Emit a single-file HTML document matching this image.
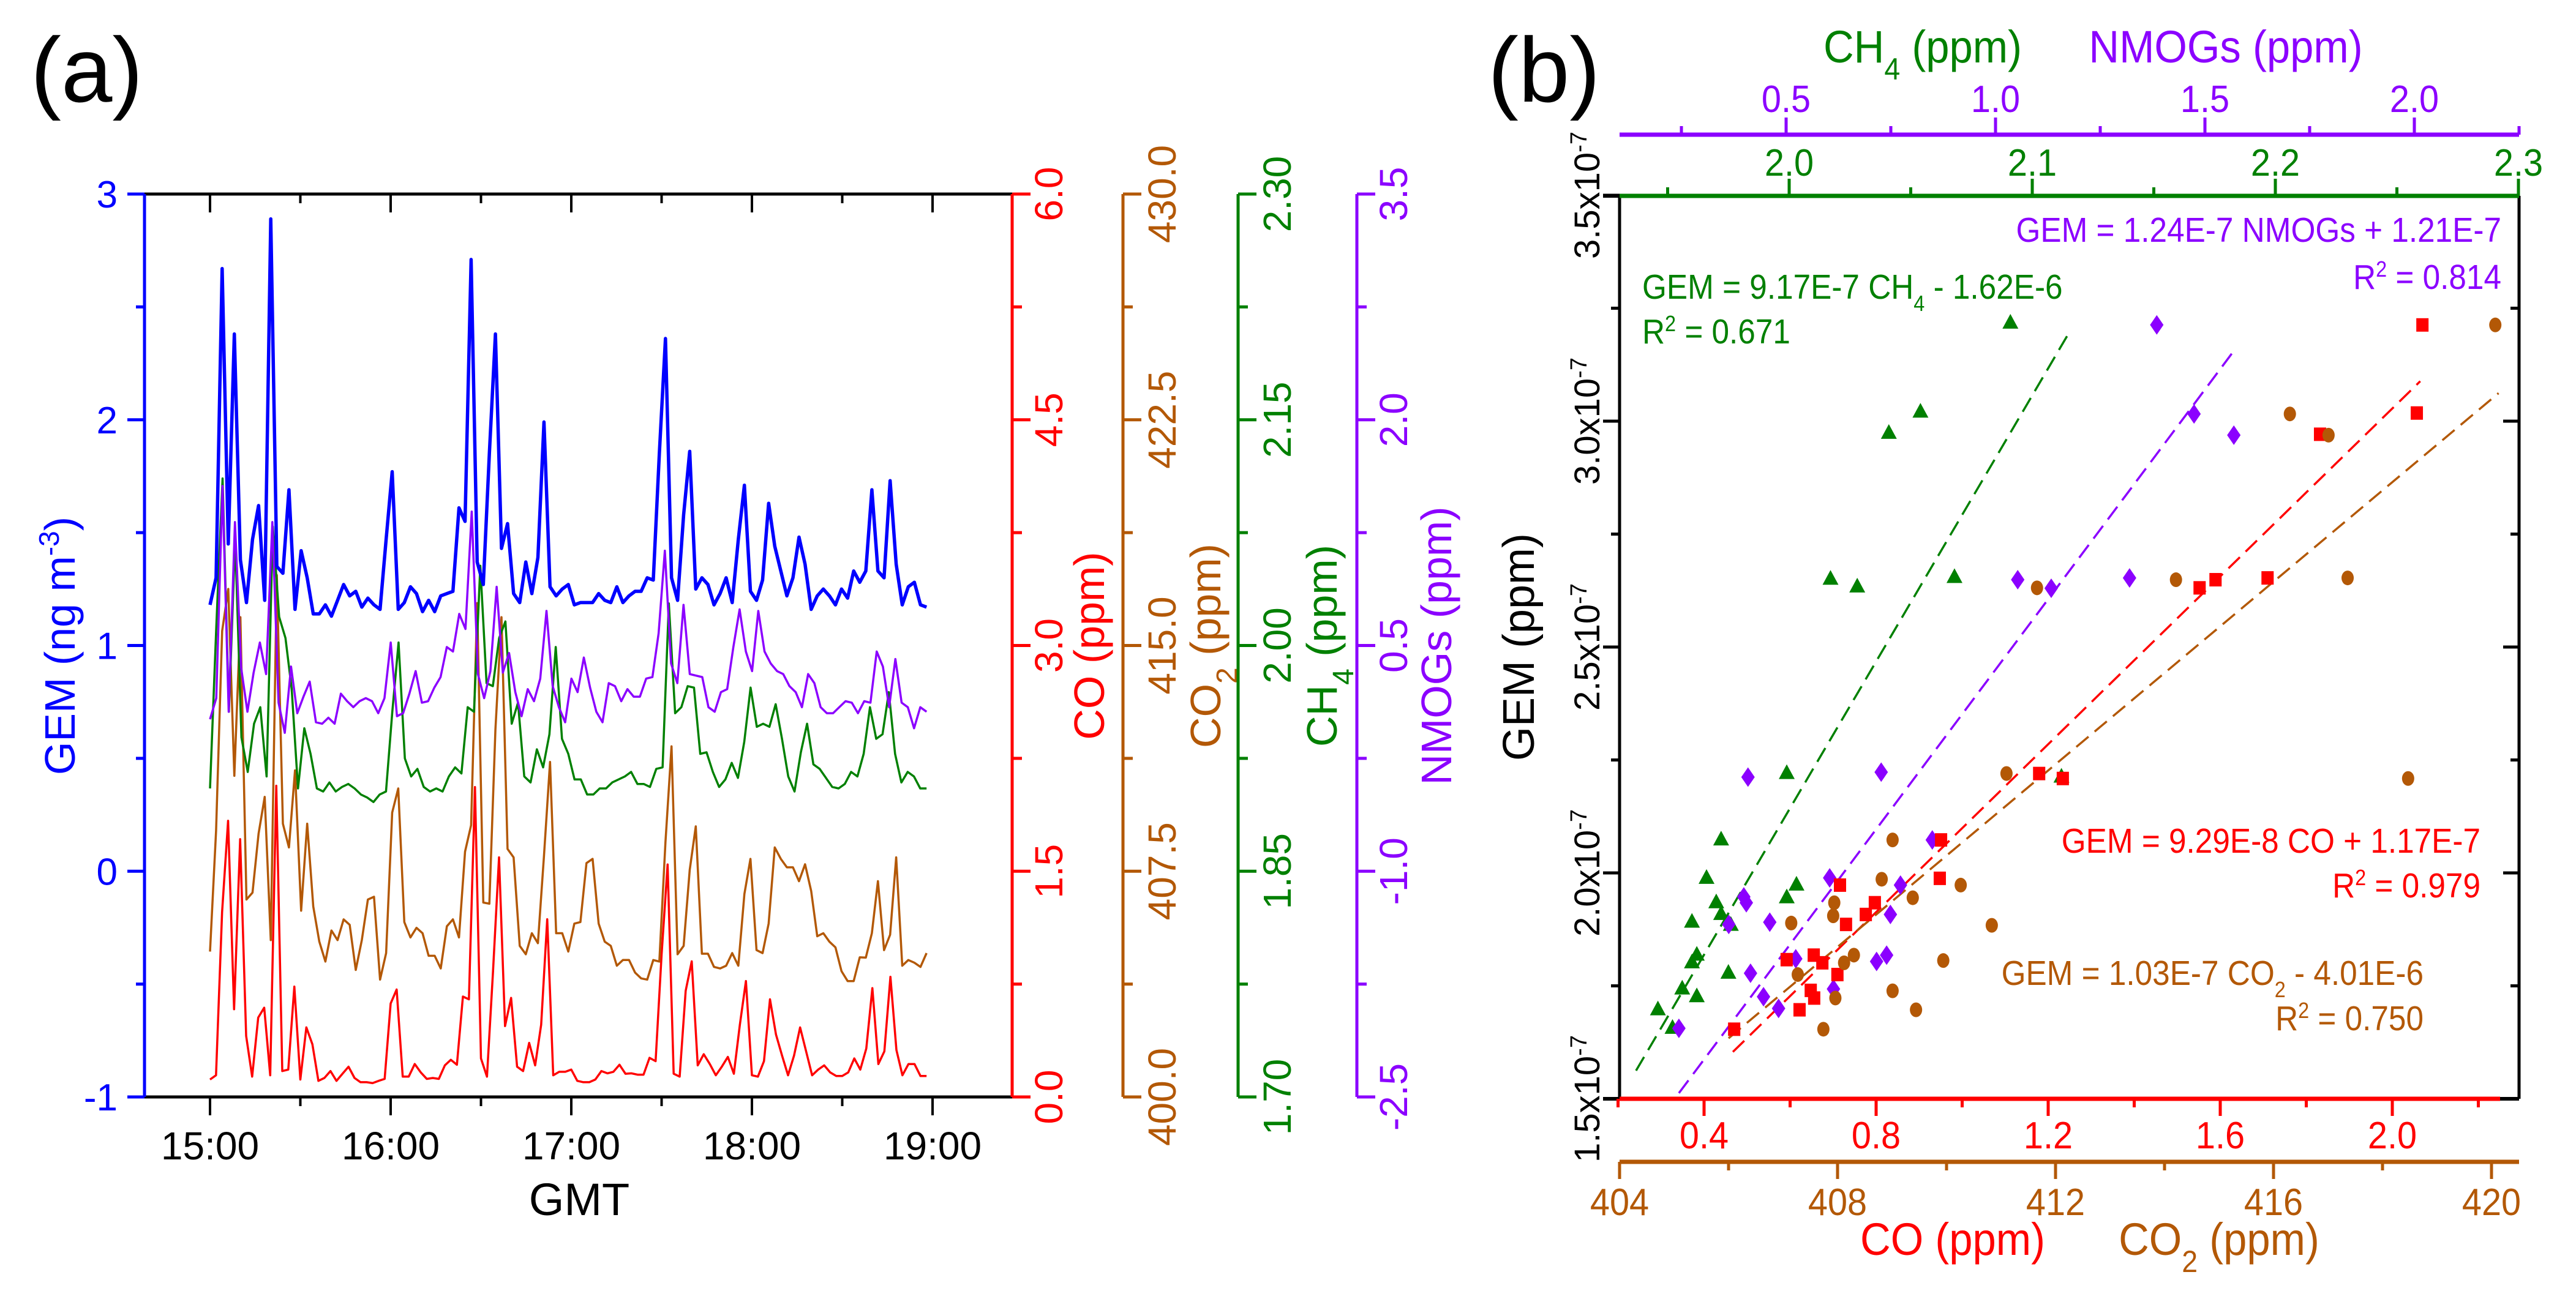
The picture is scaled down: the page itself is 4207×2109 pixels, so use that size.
<!DOCTYPE html>
<html><head><meta charset="utf-8"><style>
html,body{margin:0;padding:0;background:#fff;}
svg{display:block;font-family:"Liberation Sans",Arial,sans-serif;}
</style></head><body>
<svg id="fig" xmlns="http://www.w3.org/2000/svg" width="4207" height="2109" viewBox="0 0 4207 2109">
<rect width="4207" height="2109" fill="#fff"/>
<text x="50" y="166" font-size="150" fill="#000">(a)</text>
<text x="2430" y="166" font-size="150" fill="#000">(b)</text>
<g id="pa"></g>
<g id="pb"></g>
</svg>
<script>
// ---------- Panel (a) data: time series from 15:00 ----------
const endMin = 238;
const gemSeries = [1.18,1.30,2.67,1.45,2.38,1.38,1.19,1.47,1.62,1.20,2.89,1.35,1.32,1.69,1.16,1.42,1.30,1.14,1.14,1.18,1.13,1.20,1.27,1.22,1.24,1.17,1.21,1.18,1.16,1.47,1.77,1.16,1.19,1.26,1.23,1.15,1.20,1.15,1.22,1.23,1.24,1.61,1.55,2.71,1.37,1.27,1.85,2.38,1.43,1.54,1.23,1.19,1.37,1.23,1.39,1.99,1.26,1.22,1.25,1.27,1.18,1.19,1.19,1.19,1.23,1.20,1.19,1.26,1.19,1.22,1.24,1.24,1.30,1.29,1.85,2.36,1.30,1.20,1.58,1.86,1.25,1.30,1.27,1.18,1.23,1.30,1.19,1.47,1.71,1.24,1.20,1.29,1.63,1.44,1.33,1.22,1.30,1.48,1.36,1.16,1.22,1.25,1.22,1.18,1.25,1.21,1.33,1.28,1.33,1.69,1.33,1.30,1.73,1.36,1.18,1.26,1.28,1.18,1.17];
const nmogSeries = [0.01,0.15,1.56,0.06,1.32,0.35,0.06,0.32,0.52,0.31,1.32,0.12,-0.08,0.36,0.05,0.16,0.26,-0.01,-0.02,0.02,-0.02,0.18,0.13,0.09,0.13,0.15,0.13,0.05,0.15,0.52,0.03,0.05,0.18,0.33,0.12,0.13,0.22,0.29,0.49,0.46,0.71,0.61,1.39,0.31,0.15,0.33,0.89,0.32,0.45,0.19,0.03,0.21,0.13,0.28,0.73,0.23,0.09,-0.01,0.28,0.19,0.42,0.22,0.06,-0.01,0.25,0.23,0.13,0.21,0.16,0.16,0.28,0.29,0.58,1.13,0.38,0.25,0.77,0.31,0.30,0.29,0.09,0.06,0.19,0.21,0.49,0.74,0.46,0.33,0.73,0.46,0.38,0.33,0.31,0.23,0.19,0.09,0.31,0.25,0.09,0.05,0.05,0.09,0.13,0.12,0.05,0.13,0.12,0.46,0.36,0.09,0.41,0.12,0.09,-0.05,0.09,0.06];
const ch4Series = [1.905,2.013,2.111,1.956,2.071,1.939,1.916,1.948,1.959,1.913,2.079,2.019,2.005,1.971,1.905,1.945,1.928,1.905,1.903,1.909,1.903,1.906,1.908,1.905,1.901,1.899,1.896,1.901,1.903,1.956,2.002,1.925,1.913,1.918,1.906,1.903,1.905,1.903,1.913,1.919,1.915,1.959,1.956,2.053,1.975,1.973,2.005,2.016,1.948,1.962,1.913,1.909,1.931,1.919,1.941,1.999,1.938,1.928,1.911,1.911,1.901,1.901,1.905,1.905,1.909,1.911,1.913,1.916,1.908,1.908,1.906,1.918,1.919,2.028,1.955,1.959,1.973,1.972,1.928,1.929,1.916,1.906,1.911,1.922,1.912,1.936,1.972,1.946,1.948,1.946,1.961,1.938,1.913,1.903,1.929,1.948,1.921,1.918,1.912,1.906,1.905,1.908,1.916,1.913,1.928,1.959,1.938,1.941,1.969,1.928,1.909,1.916,1.913,1.905,1.905];
const co2Series = [404.83,408.85,415.48,416.88,410.67,415.94,406.56,406.79,408.75,409.97,405.21,417.34,409.08,408.29,410.85,406.19,409.08,406.33,405.16,404.50,405.53,405.21,405.90,405.72,404.22,405.21,406.56,406.65,403.90,404.78,409.45,410.25,405.81,405.30,405.62,405.44,404.69,404.69,404.27,405.67,405.90,405.30,408.15,409.03,416.41,406.46,406.42,412.21,415.94,408.24,407.96,405.02,404.74,405.44,405.11,408.01,411.13,405.44,405.44,404.83,405.76,405.81,407.77,407.91,405.76,405.16,405.02,404.36,404.55,404.55,404.13,403.94,403.90,404.55,404.50,408.47,411.65,404.74,405.02,407.54,408.99,404.76,404.76,404.32,404.27,404.36,404.78,404.36,406.74,407.91,404.88,404.78,405.76,408.29,407.91,407.63,407.63,407.17,407.73,406.84,405.34,405.44,405.16,404.97,404.18,403.85,403.85,404.64,404.63,405.44,407.17,404.88,405.39,407.96,404.36,404.55,404.46,404.32,404.78];
const coSeries = [0.116,0.144,1.228,1.835,0.583,1.713,0.406,0.135,0.527,0.593,0.144,2.068,0.172,0.182,0.733,0.116,0.462,0.350,0.107,0.126,0.172,0.107,0.154,0.201,0.126,0.098,0.098,0.092,0.107,0.120,0.621,0.714,0.135,0.135,0.219,0.163,0.120,0.126,0.120,0.210,0.247,0.214,0.667,0.649,2.059,0.256,0.135,0.836,1.592,0.471,0.658,0.201,0.172,0.359,0.210,0.480,1.181,0.144,0.167,0.167,0.182,0.107,0.098,0.098,0.116,0.172,0.157,0.167,0.214,0.154,0.157,0.148,0.148,0.260,0.238,0.947,1.545,0.154,0.135,0.705,0.901,0.210,0.284,0.219,0.144,0.201,0.266,0.154,0.480,0.770,0.144,0.135,0.238,0.649,0.415,0.275,0.144,0.275,0.462,0.303,0.144,0.182,0.210,0.163,0.139,0.139,0.163,0.256,0.182,0.322,0.723,0.219,0.303,0.798,0.312,0.144,0.219,0.219,0.139,0.139];
const timeTickLabels = ["15:00","16:00","17:00","18:00","19:00"];
const gemTicks = [-1,0,1,2,3];
const coTicks = [0.0,1.5,3.0,4.5,6.0];
const co2Ticks = [400.0,407.5,415.0,422.5,430.0];
const ch4Ticks = [1.70,1.85,2.00,2.15,2.30];
const nmogTicks = [-2.5,-1.0,0.5,2.0,3.5];

// ---------- Panel (b) data: scatter ----------
const ch4X = [2.091,2.054,2.041,2.017,2.028,2.068,1.999,1.972,1.966,1.970,1.972,1.960,1.976,2.003,1.999,1.962,1.960,1.975,1.956,1.962,1.946,1.952,2.112];
const ch4Y = [3.217,3.020,2.973,2.650,2.633,2.654,2.220,2.073,1.988,1.934,1.908,1.891,1.884,1.973,1.945,1.818,1.801,1.778,1.743,1.726,1.697,1.656,2.212];
const nmogX = [1.385,1.474,1.569,1.053,1.133,1.320,0.409,0.727,0.849,0.604,0.773,0.399,0.405,0.363,0.461,0.749,0.523,0.716,0.740,0.415,0.446,0.613,0.482,0.244];
const nmogY = [3.213,3.016,2.969,2.649,2.630,2.653,2.212,2.223,2.073,1.989,1.973,1.947,1.934,1.886,1.891,1.908,1.810,1.804,1.818,1.778,1.726,1.743,1.700,1.656];
const coX = [2.070,2.057,1.832,1.552,1.589,1.710,1.179,1.234,0.951,0.948,0.716,0.797,0.776,0.730,0.592,0.655,0.675,0.710,0.648,0.656,0.622,0.470];
const coY = [3.213,3.018,2.971,2.631,2.649,2.653,2.220,2.209,2.073,1.988,1.973,1.934,1.908,1.886,1.808,1.818,1.801,1.775,1.740,1.723,1.697,1.654];
const co2X = [420.07,416.30,417.01,411.66,414.21,417.36,411.10,418.47,409.01,408.81,410.26,409.38,407.94,407.92,407.15,410.83,408.30,408.12,409.94,407.27,409.01,407.96,409.44,407.74];
const co2Y = [3.213,3.016,2.969,2.631,2.649,2.653,2.220,2.209,2.073,1.986,1.973,1.945,1.934,1.905,1.889,1.884,1.818,1.801,1.806,1.775,1.739,1.723,1.697,1.654];
const fitCH4 = [1.937, 2.115];
const fitNMOG = [0.244, 1.567];
const fitCO = [0.467, 2.065];
const fitCO2X = [406.0, 420.13];
const fitCO2Y = [1.634, 3.062];
const gemBTicks = ["1.5","2.0","2.5","3.0","3.5"];
const coBTicks = ["0.4","0.8","1.2","1.6","2.0"];
const co2BTicks = ["404","408","412","416","420"];
const ch4BTicks = ["2.0","2.1","2.2","2.3"];
const nmogBTicks = ["0.5","1.0","1.5","2.0"];

const NS = "http://www.w3.org/2000/svg";
function el(parent, tag, attrs){const e=document.createElementNS(NS,tag);for(const k in attrs)e.setAttribute(k,attrs[k]);parent.appendChild(e);return e;}
const pa = document.getElementById('pa');
const pb = document.getElementById('pb');

// ---- Panel a scales ----
const AL=236, AR=1653, AT=317, AB=1792;
const xT = m => 343 + m*(1523-343)/240;
const yGEM = v => AB - (v+1)*(AB-AT)/4;
const yCO = v => AB - v*(AB-AT)/6;
const yCO2 = v => AB - (v-400)*(AB-AT)/30;
const yCH4 = v => AB - (v-1.7)*(AB-AT)/0.6;
const yNM = v => AB - (v+2.5)*(AB-AT)/6;

let t;
t = el(pa,'line',{x1:AL,y1:AT,x2:AR,y2:AT,stroke:'#000','stroke-width':5});
 
t = el(pa,'line',{x1:AL,y1:AB,x2:AR,y2:AB,stroke:'#000','stroke-width':5});
 
for(let m=0;m<=240;m+=30){
  const major = m%60===0;
  el(pa,'line',{x1:xT(m),y1:AB,x2:xT(m),y2:AB+(major?30:15),stroke:'#000','stroke-width':4});
  el(pa,'line',{x1:xT(m),y1:AT,x2:xT(m),y2:AT+(major?30:15),stroke:'#000','stroke-width':4});
}
timeTickLabels.forEach((s,i)=>{
  const tx = el(pa,'text',{x:xT(i*60),y:1894,'font-size':64,'text-anchor':'middle',fill:'#000'});
  tx.textContent=s;
   
});
t = el(pa,'text',{x:946,y:1985,'font-size':74,'text-anchor':'middle',fill:'#000'}); t.textContent='GMT';
 

function vAxis(x, color, ticks, yf, labelX, fmt, title, titleX, name, leftSide){
  const g = el(pa,'g',{});
   
  el(g,'line',{x1:x,y1:AT,x2:x,y2:AB,stroke:color,'stroke-width':5});
  const n=ticks.length;
  for(let i=0;i<n;i++){
    const y=yf(ticks[i]);
    el(g,'line',{x1:x,y1:y,x2:leftSide?x-28:x+30,y2:y,stroke:color,'stroke-width':5});
    if(i<n-1){const ym=(y+yf(ticks[i+1]))/2; el(g,'line',{x1:x,y1:ym,x2:leftSide?x-14:x+16,y2:ym,stroke:color,'stroke-width':5});}
    let lab;
    if(leftSide){ lab = el(g,'text',{x:labelX,y:y+22,'font-size':62,'text-anchor':'end',fill:color}); }
    else { lab = el(g,'text',{x:0,y:0,'font-size':64,'text-anchor':'middle',fill:color,transform:`translate(${labelX},${y}) rotate(-90)`}); }
    lab.textContent = fmt(ticks[i]);
     
  }
  const tt = el(g,'text',{x:0,y:0,'font-size':70,'text-anchor':'middle',fill:color,transform:`translate(${titleX},1055) rotate(-90)`});
  tt.innerHTML = title;
   
}
vAxis(AL,'#0000ff',gemTicks,yGEM,192,v=>String(v),'GEM (ng m<tspan baseline-shift="super" font-size="46">-3</tspan>)',122,'gem-axis',true);
vAxis(AR,'#ff0000',coTicks,yCO,1735,v=>v.toFixed(1),'CO (ppm)',1803,'co-axis',false);
vAxis(1834,'#b35806',co2Ticks,yCO2,1920,v=>v.toFixed(1),'CO<tspan baseline-shift="sub" font-size="48">2</tspan> (ppm)',1993,'co2-axis',false);
vAxis(2022,'#008000',ch4Ticks,yCH4,2108,v=>v.toFixed(2),'CH<tspan baseline-shift="sub" font-size="48">4</tspan> (ppm)',2183,'ch4-axis',false);
vAxis(2216,'#8b00ff',nmogTicks,yNM,2298,v=>v.toFixed(1),'NMOGs (ppm)',2370,'nmog-axis',false);

function series(arr, yf, color, w, name){
  const step = endMin/(arr.length-1);
  const d = arr.map((v,i)=>(i?'L':'M')+xT(i*step).toFixed(1)+','+yf(v).toFixed(1)).join(' ');
  const p = el(pa,'path',{d:d,fill:'none',stroke:color,'stroke-width':w,'stroke-linejoin':'round'});
   
}
series(coSeries,yCO,'#ff0000',3.5,'co-line');
series(co2Series,yCO2,'#b35806',3.5,'co2-line');
series(ch4Series,yCH4,'#008000',3.5,'ch4-line');
series(nmogSeries,yNM,'#8b00ff',3.5,'nmog-line');
series(gemSeries,yGEM,'#0000ff',5.5,'gem-line');

// ---- Panel b ----
const BL=2645, BR=4114, BT=320, BB=1795;
const xCO = v => 2783 + (v-0.4)*702.5;
const xCO2 = v => 2645 + (v-404)*89;
const xCH4 = v => 2922 + (v-2.0)*3970;
const xNM = v => 2917 + (v-0.5)*684;
const yG = v => BB - (v-1.5)*738;
const SX = 0.93;
function ntext(parent,x,y,size,color,anchor,html,name,sx){
  const tx = el(parent,'text',{x:0,y:0,'font-size':size,fill:color,'text-anchor':anchor,transform:`translate(${x},${y}) scale(${sx||SX},1)`});
  tx.innerHTML = html;
   
  return tx;
}
t = el(pb,'line',{x1:BL,y1:BT,x2:BL,y2:BB,stroke:'#000','stroke-width':5});
 
t = el(pb,'line',{x1:BR,y1:BT,x2:BR,y2:BB,stroke:'#000','stroke-width':5});
 
el(pb,'line',{x1:BL-27,y1:BB,x2:BR,y2:BB,stroke:'#000','stroke-width':6});
el(pb,'line',{x1:BL-27,y1:BT,x2:BL,y2:BT,stroke:'#000','stroke-width':6});
for(let k=0;k<=8;k++){
  const v=1.5+k*0.25, y=yG(v), major=k%2===0;
  el(pb,'line',{x1:BL,y1:y,x2:BL-(major?27:14),y2:y,stroke:'#000','stroke-width':5});
  el(pb,'line',{x1:BR,y1:y,x2:BR-(major?26:14),y2:y,stroke:'#000','stroke-width':5});
}
gemBTicks.forEach(s=>{
  const y=yG(parseFloat(s));
  const tx = el(pb,'text',{x:0,y:0,'font-size':58,'text-anchor':'middle',fill:'#000',transform:`translate(2612,${y}) rotate(-90)`});
  tx.innerHTML = s+'x10<tspan baseline-shift="super" font-size="38">-7</tspan>';
   
});
t = el(pb,'text',{x:0,y:0,'font-size':72,'text-anchor':'middle',fill:'#000',transform:'translate(2505,1057) rotate(-90)'});
t.textContent='GEM (ppm)';
 

t = el(pb,'line',{x1:BL,y1:BB,x2:4083,y2:BB,stroke:'#ff0000','stroke-width':7});
 
for(let k=1;k<=11;k++){const x=xCO(k*0.2); el(pb,'line',{x1:x,y1:BB,x2:x,y2:BB+(k%2?14:28),stroke:'#ff0000','stroke-width':5});}
coBTicks.forEach(s=>ntext(pb,xCO(parseFloat(s)),1876,62,'#ff0000','middle',s,'co-tick-label'));
t = el(pb,'line',{x1:BL,y1:1898,x2:BR,y2:1898,stroke:'#b35806','stroke-width':7});
 
for(let k=0;k<=8;k++){const x=xCO2(404+k*2); el(pb,'line',{x1:x,y1:1898,x2:x,y2:1898+(k%2?14:28),stroke:'#b35806','stroke-width':5});}
co2BTicks.forEach(s=>ntext(pb,xCO2(parseFloat(s)),1985,62,'#b35806','middle',s,'co2-tick-label'));
ntext(pb,3189,2050,74,'#ff0000','middle','CO (ppm)','co-axis-title');
ntext(pb,3624,2050,74,'#b35806','middle','CO<tspan baseline-shift="sub" font-size="50">2</tspan> (ppm)','co2-axis-title');

t = el(pb,'line',{x1:BL,y1:BT,x2:BR,y2:BT,stroke:'#008000','stroke-width':7});
 
for(let k=0;k<=7;k++){const v=1.95+k*0.05, x=xCH4(v); el(pb,'line',{x1:x,y1:BT,x2:x,y2:BT-(k%2?28:14),stroke:'#008000','stroke-width':5});}
ch4BTicks.forEach(s=>ntext(pb,xCH4(parseFloat(s)),287,62,'#008000','middle',s,'ch4-tick-label'));
t = el(pb,'line',{x1:BL,y1:220,x2:BR,y2:220,stroke:'#8b00ff','stroke-width':7});
 
for(let k=1;k<=9;k++){const v=k*0.25, x=xNM(v); el(pb,'line',{x1:x,y1:220,x2:x,y2:220-(k%2?14:28),stroke:'#8b00ff','stroke-width':5});}
nmogBTicks.forEach(s=>ntext(pb,xNM(parseFloat(s)),183,62,'#8b00ff','middle',s,'nmog-tick-label'));
ntext(pb,3140,102,74,'#008000','middle','CH<tspan baseline-shift="sub" font-size="50">4</tspan> (ppm)','ch4-axis-title');
ntext(pb,3635,102,74,'#8b00ff','middle','NMOGs (ppm)','nmog-axis-title');

function fit(x1,y1,x2,y2,color,name){
  const l = el(pb,'line',{x1:x1,y1:y1,x2:x2,y2:y2,stroke:color,'stroke-width':3.5,'stroke-dasharray':'26,13'});
   
}
fit(xCH4(fitCH4[0]),yG(9.17*fitCH4[0]-16.2),xCH4(fitCH4[1]),yG(9.17*fitCH4[1]-16.2),'#008000','ch4-fit-line');
fit(xNM(fitNMOG[0]),yG(1.24*fitNMOG[0]+1.21),xNM(fitNMOG[1]),yG(1.24*fitNMOG[1]+1.21),'#8b00ff','nmog-fit-line');
fit(xCO(fitCO[0]),yG(0.929*fitCO[0]+1.17),xCO(fitCO[1]),yG(0.929*fitCO[1]+1.17),'#ff0000','co-fit-line');
fit(xCO2(fitCO2X[0]),yG(fitCO2Y[0]),xCO2(fitCO2X[1]),yG(fitCO2Y[1]),'#b35806','co2-fit-line');

ch4X.forEach((v,i)=>{const x=xCH4(v), y=yG(ch4Y[i]);
  const m=el(pb,'polygon',{points:`${x},${y-15} ${x-13},${y+9} ${x+13},${y+9}`,fill:'#008000'});
   });
nmogX.forEach((v,i)=>{const x=xNM(v), y=yG(nmogY[i]);
  const m=el(pb,'polygon',{points:`${x},${y-16} ${x+11},${y} ${x},${y+16} ${x-11},${y}`,fill:'#8b00ff'});
   });
coX.forEach((v,i)=>{const x=xCO(v), y=yG(coY[i]);
  const m=el(pb,'rect',{x:x-10,y:y-11,width:20,height:22,fill:'#ff0000'});
   });
co2X.forEach((v,i)=>{const x=xCO2(v), y=yG(co2Y[i]);
  const m=el(pb,'ellipse',{cx:x,cy:y,rx:10,ry:12,fill:'#b35806'});
   });

const AS=57, ASX=0.9;
ntext(pb,4085,395,AS,'#8b00ff','end','GEM = 1.24E-7 NMOGs + 1.21E-7','nmog-fit-equation',ASX);
ntext(pb,4085,472,AS,'#8b00ff','end','R<tspan baseline-shift="super" font-size="36">2</tspan> = 0.814','nmog-fit-r2',ASX);
ntext(pb,2682,488,AS,'#008000','start','GEM = 9.17E-7 CH<tspan baseline-shift="sub" font-size="36">4</tspan> - 1.62E-6','ch4-fit-equation',ASX);
ntext(pb,2682,561,AS,'#008000','start','R<tspan baseline-shift="super" font-size="36">2</tspan> = 0.671','ch4-fit-r2',ASX);
ntext(pb,4051,1393,AS,'#ff0000','end','GEM = 9.29E-8 CO + 1.17E-7','co-fit-equation',ASX);
ntext(pb,4051,1466,AS,'#ff0000','end','R<tspan baseline-shift="super" font-size="36">2</tspan> = 0.979','co-fit-r2',ASX);
ntext(pb,3958,1609,AS,'#b35806','end','GEM = 1.03E-7 CO<tspan baseline-shift="sub" font-size="36">2</tspan> - 4.01E-6','co2-fit-equation',ASX);
ntext(pb,3958,1683,AS,'#b35806','end','R<tspan baseline-shift="super" font-size="36">2</tspan> = 0.750','co2-fit-r2',ASX);
</script>
</body></html>
